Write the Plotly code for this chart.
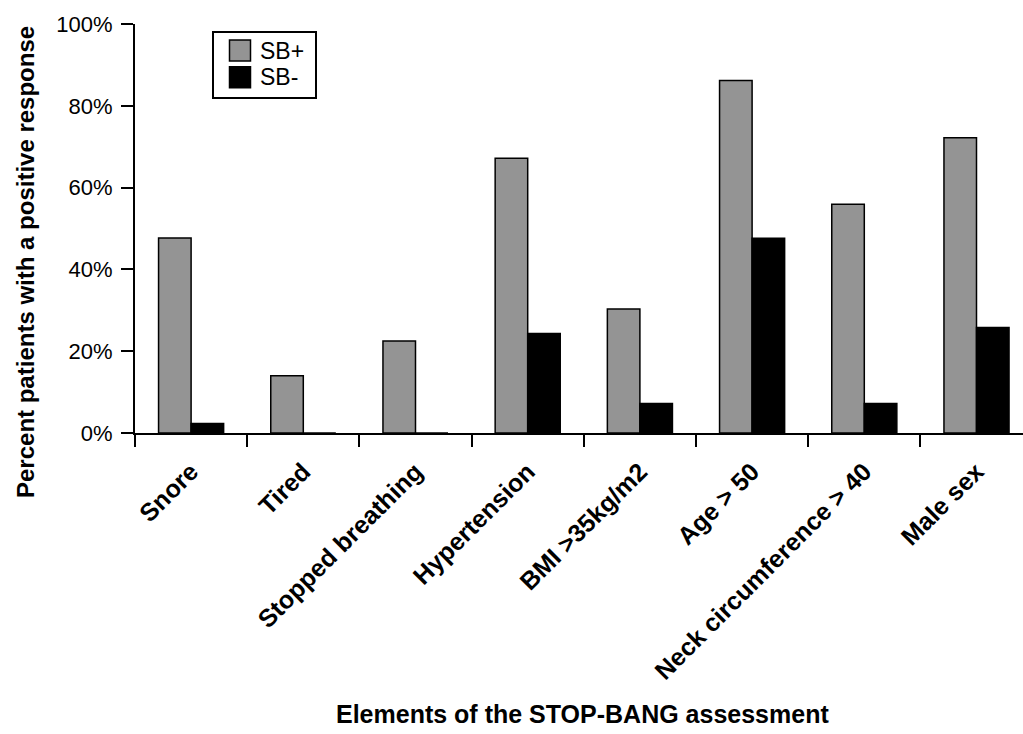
import plotly.graph_objects as go

categories = ["Snore", "Tired", "Stopped breathing", "Hypertension", "BMI >35kg/m2",
              "Age > 50", "Neck circumference > 40", "Male sex"]
sb_plus = [47.7, 14.0, 22.5, 67.2, 30.3, 86.2, 55.9, 72.2]
sb_minus = [2.3, 0.0, 0.0, 24.3, 7.2, 47.6, 7.2, 25.8]
series_names = ["SB+", "SB-"]
series_colors = ["#949494", "#000000"]
y_ticks = [0, 20, 40, 60, 80, 100]
y_tick_labels = [f"{v}%" for v in y_ticks]

FONT = "Liberation Sans, Arial, Helvetica, sans-serif"

fig = go.Figure()
for name, vals, col in zip(series_names, [sb_plus, sb_minus], series_colors):
    fig.add_trace(go.Bar(
        x=categories, y=vals, name=name,
        marker=dict(color=col, line=dict(color="#000000", width=1.5)),
        showlegend=False,
    ))

W, H = 1023, 734
L, R, T, B = 135, 0, 24, 301
pw, ph = W - L - R, H - T - B

def px2x(px):
    return (px - L) / pw

def py2y(py):
    return (H - B - py) / ph

fig.update_layout(
    width=W, height=H,
    margin=dict(l=L, r=R, t=T, b=B),
    paper_bgcolor="white", plot_bgcolor="white",
    barmode="group", bargap=0.42, bargroupgap=0,
    font=dict(family=FONT, color="#000000"),
    xaxis=dict(
        type="category", range=[-0.5, -0.5 + pw / 112.2],
        tickson="boundaries", ticks="outside", ticklen=12, tickwidth=1.5, tickcolor="black",
        showline=True, linewidth=2, linecolor="black", showgrid=False,
        tickangle=-45, tickfont=dict(size=25, family=FONT, weight="bold"),
        ticklabelstandoff=12,
    ),
    yaxis=dict(
        range=[0, 100], tickmode="array", tickvals=y_ticks, ticktext=y_tick_labels,
        ticks="outside", ticklen=12, tickwidth=1.5, tickcolor="black",
        showline=True, linewidth=2, linecolor="black", showgrid=False, zeroline=False,
        tickfont=dict(size=22, family=FONT), ticklabelstandoff=4,
    ),
)

# Axis titles
fig.add_annotation(xref="paper", yref="paper", x=px2x(25), y=py2y(262),
                   text="Percent patients with a positive response", textangle=-90,
                   showarrow=False, xanchor="center", yanchor="middle",
                   font=dict(size=24, family=FONT, weight="bold"))
fig.add_annotation(xref="paper", yref="paper", x=px2x(582), y=py2y(714),
                   text="Elements of the STOP-BANG assessment",
                   showarrow=False, xanchor="center", yanchor="middle",
                   font=dict(size=25, family=FONT, weight="bold"))

# Legend box
fig.add_shape(type="rect", xref="paper", yref="paper",
              x0=px2x(213), x1=px2x(316), y0=py2y(98), y1=py2y(32),
              line=dict(color="black", width=2), fillcolor="white", layer="above")
sw_top = [40, 66.7]
txt_y = [51, 77]
for name, col, st, ty in zip(series_names, series_colors, sw_top, txt_y):
    fig.add_shape(type="rect", xref="paper", yref="paper",
                  x0=px2x(229.5), x1=px2x(250.5), y0=py2y(st + 21), y1=py2y(st),
                  line=dict(color="black", width=1.5), fillcolor=col, layer="above")
    fig.add_annotation(xref="paper", yref="paper", x=px2x(258), y=py2y(ty),
                       text=name, showarrow=False, xanchor="left", yanchor="middle",
                       font=dict(size=23, family=FONT))

fig.write_html("out.html", config={"displayModeBar": False},
               post_script="document.body.style.margin='0px';document.body.style.overflow='hidden';")
